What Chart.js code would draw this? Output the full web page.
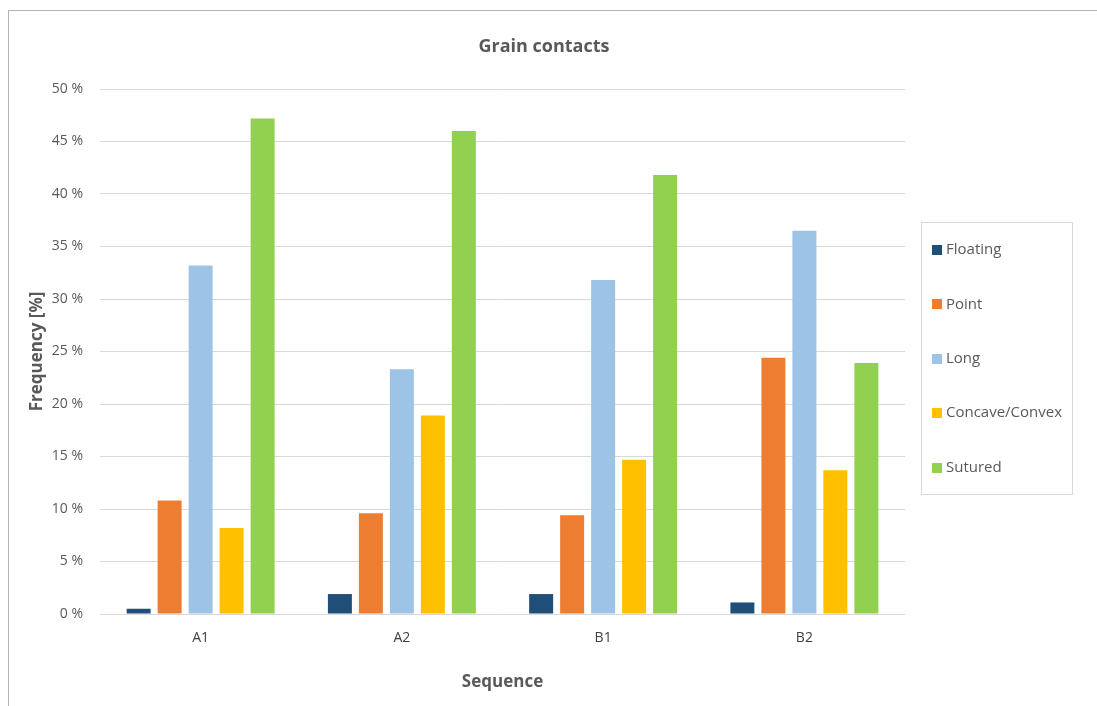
<!DOCTYPE html>
<html>
<head>
<meta charset="utf-8">
<title>Grain contacts</title>
<script src="https://cdn.jsdelivr.net/npm/chart.js@4/dist/chart.umd.min.js"></script>
<style>
  html, body { margin: 0; padding: 0; background: #ffffff; }
  #wrap { position: relative; width: 1097px; height: 706px; overflow: hidden; }
  #frame {
    position: absolute; left: 8px; top: 10px; right: -2px; bottom: -2px;
    border-top: 1px solid #b4b4b4; border-left: 1px solid #b4b4b4;
  }
  #chart { position: absolute; left: 0; top: 0; }
</style>
</head>
<body>
<div id="wrap">
  <div id="frame"></div>
  <canvas id="chart" width="1097" height="706"></canvas>
</div>
<script>
// Sequences on the x axis
const categories = ['A1', 'A2', 'B1', 'B2'];

// Share of each grain-contact type per sequence, in percent
const floating = [0.5, 1.9, 1.9, 1.1];
const point    = [10.8, 9.6, 9.4, 24.4];
const long     = [33.2, 23.3, 31.8, 36.5];
const concave  = [8.2, 18.9, 14.7, 13.7];
const sutured  = [47.2, 46.0, 41.8, 23.9];

const seriesNames  = ['Floating', 'Point', 'Long', 'Concave/Convex', 'Sutured'];
const seriesColors = ['#1f4e79', '#ed7d31', '#9dc3e6', '#ffc000', '#92d050'];
const seriesValues = [floating, point, long, concave, sutured];

// Y axis ticks
const yMin = 0, yMax = 50, yStep = 5;

const FONT = "'Open Sans', 'DejaVu Sans', sans-serif";
const TEXT = '#595959';

// Boxed legend to the right of the plot area
const boxedLegend = {
  id: 'boxedLegend',
  afterDraw(chart) {
    const ctx = chart.ctx;
    const area = chart.chartArea;
    const left = area.right + 16.5;
    const top = 222.5;
    const width = 151;
    const height = 272;
    const step = 54.4;
    ctx.save();
    ctx.strokeStyle = '#d9d9d9';
    ctx.lineWidth = 1;
    ctx.strokeRect(left, top, width, height);
    ctx.font = '15px ' + FONT;
    ctx.textBaseline = 'middle';
    ctx.textAlign = 'left';
    chart.data.datasets.forEach((ds, i) => {
      const cy = top + 27.5 + i * step;
      ctx.fillStyle = ds.backgroundColor;
      ctx.fillRect(Math.round(left + 10.5), Math.round(cy - 5), 10, 10);
      ctx.fillStyle = TEXT;
      ctx.fillText(ds.label, left + 24.5, cy);
    });
    ctx.restore();
  }
};

new Chart(document.getElementById('chart'), {
  type: 'bar',
  data: {
    labels: categories,
    datasets: seriesNames.map((name, i) => ({
      label: name,
      data: seriesValues[i],
      backgroundColor: seriesColors[i],
      borderWidth: 0,
      categoryPercentage: 0.77,
      barPercentage: 0.774
    }))
  },
  options: {
    responsive: false,
    devicePixelRatio: 1,
    animation: false,
    layout: { padding: { left: 0, right: 9, top: 0, bottom: 0 } },
    plugins: {
      legend: { display: false },
      tooltip: { enabled: false },
      title: {
        display: true,
        text: 'Grain contacts',
        color: TEXT,
        font: { family: FONT, size: 18, weight: 'bold' },
        padding: { top: 36, bottom: 31.4 }
      }
    },
    scales: {
      x: {
        grid: { display: false, drawTicks: false },
        border: { display: false },
        ticks: {
          color: '#404040',
          font: { family: FONT, size: 14 },
          padding: 16
        },
        title: {
          display: true,
          text: 'Sequence',
          color: TEXT,
          font: { family: FONT, size: 17, weight: 'bold' },
          padding: { top: 0, bottom: 14 }
        },
        afterFit(scale) { scale.height = 92; }
      },
      y: {
        min: yMin,
        max: yMax,
        grid: { color: '#d9d9d9', lineWidth: 1, drawTicks: false },
        border: { display: false },
        ticks: {
          stepSize: yStep,
          color: TEXT,
          font: { family: FONT, size: 14 },
          padding: 17,
          callback: v => v + ' %'
        },
        title: {
          display: true,
          text: 'Frequency [%]',
          color: TEXT,
          font: { family: FONT, size: 17, weight: 'bold' },
          padding: { top: 27, bottom: 0 }
        },
        afterFit(scale) { scale.width = 100; }
      },
      legendSpace: {
        type: 'linear',
        position: 'right',
        display: true,
        grid: { display: false, drawTicks: false },
        border: { display: false },
        ticks: { display: false },
        afterFit(scale) { scale.width = 183; }
      }
    }
  },
  plugins: [boxedLegend]
});
</script>
</body>
</html>
